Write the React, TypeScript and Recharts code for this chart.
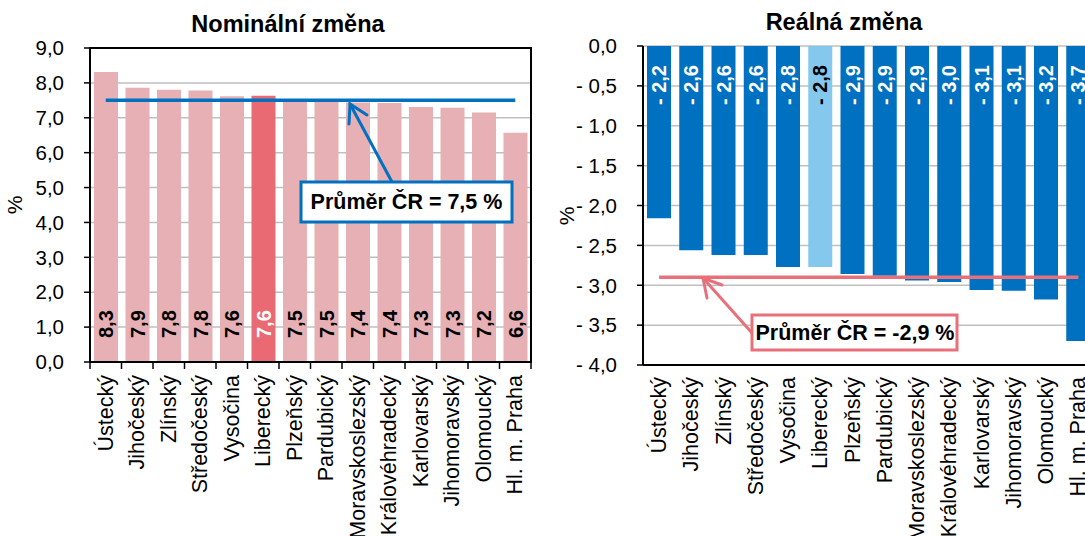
import React from 'react';
import { ComposedChart, Bar, Line, XAxis, YAxis, CartesianGrid, Cell, LabelList, ReferenceArea } from 'recharts';

const regions = [
  'Ústecký', 'Jihočeský', 'Zlínský', 'Středočeský', 'Vysočina', 'Liberecký', 'Plzeňský',
  'Pardubický', 'Moravskoslezský', 'Královéhradecký', 'Karlovarský', 'Jihomoravský', 'Olomoucký', 'Hl. m. Praha',
];
const nominal = [8.31, 7.86, 7.8, 7.78, 7.62, 7.63, 7.52, 7.5, 7.44, 7.42, 7.31, 7.29, 7.15, 6.57];
const real = [-2.16, -2.56, -2.62, -2.62, -2.77, -2.77, -2.86, -2.88, -2.94, -2.96, -3.06, -3.07, -3.18, -3.7];
const nominalAvg = 7.5;
const realAvg = -2.9;
const highlight = 'Liberecký';
const nominalTicks = [0, 1, 2, 3, 4, 5, 6, 7, 8, 9];
const realTicks = [-4, -3.5, -3, -2.5, -2, -1.5, -1, -0.5, 0];

const font = '"Liberation Sans", Arial, Helvetica, sans-serif';

const fmt = (v: number) => v.toFixed(1).replace('.', ',');
const fmtReal = (v: number) => (v < 0 ? '- ' + fmt(-v) : fmt(v));

const nominalData = regions.map((name, i) => ({ name, value: nominal[i], avg: nominalAvg }));
const realData = regions.map((name, i) => ({ name, value: real[i], avg: realAvg }));

// category labels under the plot + tick marks on category boundaries
function CategoryTick(props: any) {
  const { x, y, payload, index, gap, edgeTicks } = props;
  const off = payload?.offset ?? 0;
  return (
    <g>
      {edgeTicks && <line x1={x - off} y1={y} x2={x - off} y2={y + 7} stroke="#000" strokeWidth={1.5} />}
      {edgeTicks && index === regions.length - 1 && (
        <line x1={x + off} y1={y} x2={x + off} y2={y + 7} stroke="#000" strokeWidth={1.5} />
      )}
      <text
        x={x}
        y={y + gap}
        transform={`rotate(-90, ${x}, ${y + gap})`}
        textAnchor="end"
        dominantBaseline="central"
        fontSize={21.5}
        fill="#000"
      >
        {payload.value}
      </text>
    </g>
  );
}

function TopTick(props: any) {
  const { x, y, payload, index } = props;
  const off = payload?.offset ?? 0;
  if (index === 0) return <g />;
  return <line x1={x - off} y1={y} x2={x - off} y2={y + 6} stroke="#000" strokeWidth={1.5} />;
}

function NominalLabel(props: any) {
  const { x, y, width, height, value, index } = props;
  const cx = x + width / 2;
  const base = y + height - 24;
  return (
    <text
      x={cx}
      y={base}
      transform={`rotate(-90, ${cx}, ${base})`}
      textAnchor="start"
      dominantBaseline="central"
      fontSize={20}
      fontWeight="bold"
      fill={regions[index] === highlight ? '#fff' : '#000'}
    >
      {fmt(value)}
    </text>
  );
}

function RealLabel(props: any) {
  const { x, y, width, height, value, index } = props;
  const cx = x + width / 2;
  const top = Math.min(y, y + height) + 19;
  return (
    <text
      x={cx}
      y={top}
      transform={`rotate(-90, ${cx}, ${top})`}
      textAnchor="end"
      dominantBaseline="central"
      fontSize={20}
      fontWeight="bold"
      fill={regions[index] === highlight ? '#000' : '#fff'}
    >
      {fmtReal(value)}
    </text>
  );
}

const axisLine = { stroke: '#000', strokeWidth: 2 };
const tickStyle = { fontSize: 20.5, fill: '#000' };

function NominalChart() {
  return (
    <ComposedChart width={540} height={536} data={nominalData} margin={{ top: 48, right: 9, bottom: 0, left: 0 }}>
      <CartesianGrid vertical={false} stroke="#BFBFBF" strokeWidth={1.5} />
      <XAxis
        dataKey="name"
        interval={0}
        height={174}
        axisLine={axisLine}
        tickLine={false}
        tickSize={0}
        tickMargin={0}
        tick={<CategoryTick gap={13} edgeTicks />}
      />
      <YAxis
        width={90}
        domain={[0, 9]}
        ticks={nominalTicks}
        interval={0}
        tickFormatter={fmt}
        axisLine={axisLine}
        tickLine={{ stroke: '#000', strokeWidth: 1.5 }}
        tickSize={6}
        tickMargin={20}
        tick={tickStyle}
      />
      <Bar dataKey="value" barSize={24} isAnimationActive={false}>
        {nominalData.map((d) => (
          <Cell key={d.name} fill={d.name === highlight ? '#E96A72' : '#E6B0B4'} />
        ))}
        <LabelList dataKey="value" content={<NominalLabel />} />
      </Bar>
      <Line dataKey="avg" stroke="#0070C0" strokeWidth={3.5} dot={false} activeDot={false} isAnimationActive={false} />
      <ReferenceArea y1={0} y2={9} fill="none" stroke="#000" strokeWidth={2} ifOverflow="visible" />
    </ComposedChart>
  );
}

function RealChart() {
  return (
    <ComposedChart width={560} height={536} data={realData} margin={{ top: 46, right: 5.5, bottom: 0, left: 0 }}>
      <CartesianGrid vertical={false} stroke="#BFBFBF" strokeWidth={1.5} />
      <XAxis
        dataKey="name"
        interval={0}
        height={171}
        axisLine={axisLine}
        tickLine={false}
        tickSize={0}
        tickMargin={0}
        tick={<CategoryTick gap={12} edgeTicks={false} />}
      />
      <XAxis
        xAxisId="top"
        orientation="top"
        dataKey="name"
        interval={0}
        height={0}
        axisLine={axisLine}
        tickLine={false}
        tickSize={0}
        tickMargin={0}
        tick={<TopTick />}
      />
      <YAxis
        width={103}
        domain={[-4, 0]}
        ticks={realTicks}
        interval={0}
        tickFormatter={fmtReal}
        axisLine={axisLine}
        tickLine={{ stroke: '#000', strokeWidth: 1.5 }}
        tickSize={6}
        tickMargin={20}
        tick={tickStyle}
      />
      <Bar dataKey="value" barSize={24} isAnimationActive={false}>
        {realData.map((d) => (
          <Cell key={d.name} fill={d.name === highlight ? '#85C8EE' : '#0070C0'} />
        ))}
        <LabelList dataKey="value" content={<RealLabel />} />
      </Bar>
      <Line
        xAxisId="top"
        dataKey="avg"
        stroke="#E8707A"
        strokeWidth={3.5}
        dot={false}
        activeDot={false}
        isAnimationActive={false}
      />
    </ComposedChart>
  );
}

// titles, axis units and the two callouts
function Overlay() {
  return (
    <svg width={1085} height={536} style={{ position: 'absolute', left: 0, top: 0, pointerEvents: 'none' }}>
      <text x={288} y={32} textAnchor="middle" fontSize={23.5} fontWeight="bold" fill="#000">Nominální změna</text>
      <text x={844} y={30} textAnchor="middle" fontSize={23.5} fontWeight="bold" fill="#000">Reálná změna</text>
      <text x={14} y={205} transform="rotate(-90, 14, 205)" textAnchor="middle" dominantBaseline="central" fontSize={21}>%</text>
      <text x={566} y={216} transform="rotate(-90, 566, 216)" textAnchor="middle" dominantBaseline="central" fontSize={21}>%</text>

      <g stroke="#0070C0" strokeWidth={3} fill="none" strokeLinecap="round">
        <line x1={392} y1={182} x2={350} y2={104} />
        <polyline points="367,115 350,104 349,124" />
      </g>
      <rect x={301} y={182} width={211} height={40} fill="#fff" stroke="#0070C0" strokeWidth={3} />
      <text x={406.5} y={202} textAnchor="middle" dominantBaseline="central" fontSize={21.5} fontWeight="bold">Průměr ČR = 7,5 %</text>

      <g stroke="#E8707A" strokeWidth={3} fill="none" strokeLinecap="round">
        <line x1={752} y1={333} x2={703} y2={278} />
        <polyline points="722,285 703,278 707,298" />
      </g>
      <rect x={752} y={315} width={205} height={35} fill="#fff" stroke="#E8707A" strokeWidth={3} />
      <text x={855} y={332.5} textAnchor="middle" dominantBaseline="central" fontSize={21.5} fontWeight="bold">Průměr ČR = -2,9 %</text>
    </svg>
  );
}

export default function App() {
  return (
    <div
      style={{
        position: 'absolute',
        left: 0,
        top: 0,
        width: 1085,
        height: 536,
        overflow: 'hidden',
        background: '#fff',
        fontFamily: font,
      }}
    >
      <div style={{ position: 'absolute', left: 0, top: 0 }}>
        <NominalChart />
      </div>
      <div style={{ position: 'absolute', left: 540, top: 0 }}>
        <RealChart />
      </div>
      <Overlay />
    </div>
  );
}
